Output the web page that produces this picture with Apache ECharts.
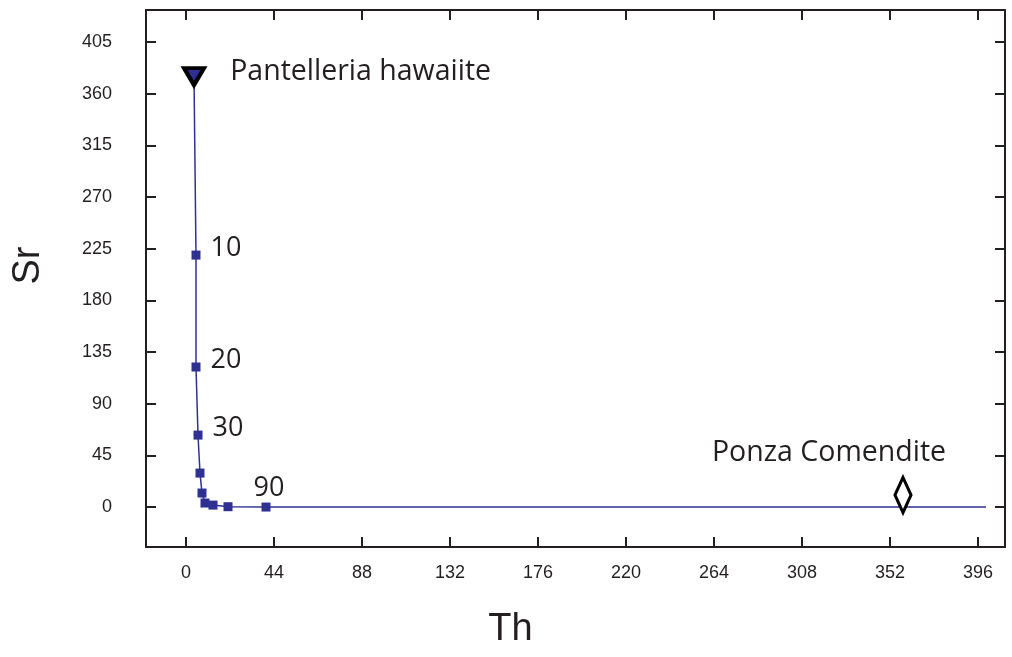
<!DOCTYPE html>
<html>
<head>
<meta charset="UTF-8">
<title>Sr vs Th</title>
<script src="https://cdn.jsdelivr.net/npm/echarts@6/dist/echarts.min.js"></script>
</head>
<body style="margin:0;background:#fff;">
<div id="container" style="width:1012px;height:657px;"></div>
<script>
// mixing curve Pantelleria hawaiite -> Ponza comendite
var thValues = [4, 5, 5, 6, 7, 8, 9.5, 13.5, 21, 40, 400];
var srValues = [375, 219.5, 122, 62.7, 29.6, 12.2, 3.5, 1.7, 0.3, 0, 0];
var pointLabels = ['', '10', '20', '30', '', '', '', '', '', '90', ''];

var hawaiite = { name: 'Pantelleria hawaiite', th: 4, sr: 375 };
var comendite = { name: 'Ponza Comendite', th: 358.5, sr: 10.5 };

var xTicks = [0, 44, 88, 132, 176, 220, 264, 308, 352, 396];
var yTicks = [0, 45, 90, 135, 180, 225, 270, 315, 360, 405];

var ink = '#231f20';
var blue = '#2e3192';

var dom = document.getElementById('container');
var myChart = echarts.init(dom);

var mixData = thValues.map(function (th, i) {
  var d = { value: [th, srValues[i]] };
  if (i === 0 || i === thValues.length - 1) d.symbol = 'none';
  var lab = pointLabels[i];
  if (lab) {
    if (lab === '90') {
      d.label = { show: true, formatter: lab, position: 'top', distance: 1, offset: [3, 0] };
    } else {
      d.label = { show: true, formatter: lab, position: 'right', distance: 10, offset: [0, -7] };
    }
  }
  return d;
});

function frameAxis(pos, ticks, isX) {
  return {
    type: 'value',
    position: pos,
    min: isX ? -20 : -34.8,
    max: isX ? 409.5 : 433,
    splitLine: { show: false },
    axisLine: { show: true, onZero: false, lineStyle: { color: ink, width: 2 } },
    axisTick: { show: true, inside: true, length: 10, customValues: ticks, lineStyle: { color: ink, width: 2 } },
    axisLabel: { show: false }
  };
}

var xMain = frameAxis('bottom', xTicks, true);
xMain.name = 'Th';
xMain.nameLocation = 'middle';
xMain.nameGap = 64;
xMain.nameTextStyle = { fontFamily: 'Liberation Sans', fontSize: 38, color: ink, padding: [0, 130, 0, 0] };
xMain.axisLabel = { show: true, customValues: xTicks, margin: 17, fontFamily: 'Liberation Sans', fontSize: 18, color: ink };

var yMain = frameAxis('left', yTicks, false);
yMain.name = 'Sr';
yMain.nameLocation = 'middle';
yMain.nameRotate = 90;
yMain.nameGap = 98;
yMain.nameTextStyle = { fontFamily: 'Liberation Sans', fontSize: 38, color: ink, padding: [0, 0, 0, 26] };
yMain.axisLabel = { show: true, customValues: yTicks, margin: 34, fontFamily: 'Liberation Sans', fontSize: 18, color: ink };

var option = {
  backgroundColor: '#fff',
  animation: false,
  grid: { left: 146, right: 7, top: 10, bottom: 110 },
  xAxis: [xMain, frameAxis('top', xTicks, true)],
  yAxis: [yMain, frameAxis('right', yTicks, false)],
  series: [
    {
      type: 'line',
      data: mixData,
      symbol: 'rect',
      symbolSize: 9,
      showAllSymbol: true,
      lineStyle: { color: blue, width: 1.5 },
      itemStyle: { color: blue, opacity: 1 },
      label: { fontFamily: 'Open Sans', fontSize: 27, color: ink },
      z: 2
    },
    {
      type: 'scatter',
      data: [{ value: [hawaiite.th, hawaiite.sr], name: hawaiite.name }],
      symbol: 'triangle',
      symbolRotate: 180,
      symbolSize: [20, 17],
      itemStyle: { color: blue, borderColor: '#000', borderWidth: 4, opacity: 1 },
      label: {
        show: true, position: 'right', distance: 24, offset: [0, -5],
        formatter: '{b}', fontFamily: 'Open Sans', fontSize: 28.5, color: ink
      },
      z: 3
    },
    {
      type: 'scatter',
      data: [{ value: [comendite.th, comendite.sr], name: comendite.name }],
      symbol: 'diamond',
      symbolSize: [16, 35],
      itemStyle: { color: '#fff', borderColor: '#000', borderWidth: 3.5, opacity: 1 },
      label: {
        show: true, position: 'top', distance: 8, offset: [-74, 0],
        formatter: '{b}', fontFamily: 'Open Sans', fontSize: 28.5, color: ink
      },
      z: 3
    }
  ]
};

myChart.setOption(option);
</script>
</body>
</html>
